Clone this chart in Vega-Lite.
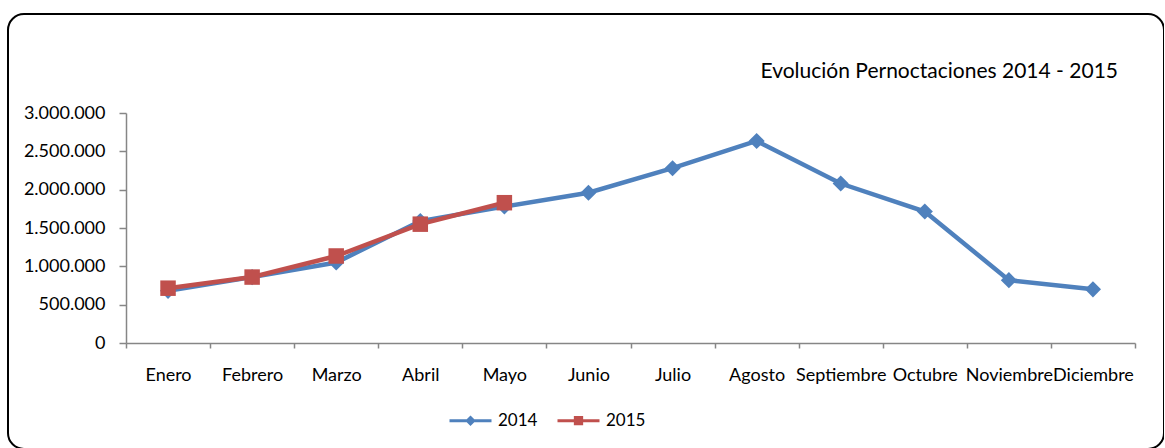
{
  "$schema": "https://vega.github.io/schema/vega-lite/v6.json",
  "width": 1156,
  "height": 435,
  "autosize": {"type": "none"},
  "padding": {"left": 8, "top": 14, "right": 0, "bottom": 0},
  "background": "white",
  "config": {
    "view": {"stroke": "#000000", "strokeWidth": 2, "cornerRadius": 16, "fill": "white"},
    "font": "Lato",
    "locale": {"number": {"decimal": ",", "thousands": ".", "grouping": [3], "currency": ["", " €"]}}
  },
  "title": {
    "text": "Evolución Pernoctaciones 2014 - 2015",
    "anchor": "end",
    "orient": "top",
    "frame": "group",
    "font": "Lato",
    "fontSize": 21,
    "fontWeight": "normal",
    "color": "#000000",
    "baseline": "alphabetic",
    "offset": 0,
    "dx": -46,
    "dy": 85
  },
  "data": {
    "values": [
      {"mes": "Enero", "anio": "2014", "valor": 680000},
      {"mes": "Febrero", "anio": "2014", "valor": 860000},
      {"mes": "Marzo", "anio": "2014", "valor": 1050000},
      {"mes": "Abril", "anio": "2014", "valor": 1590000},
      {"mes": "Mayo", "anio": "2014", "valor": 1780000},
      {"mes": "Junio", "anio": "2014", "valor": 1960000},
      {"mes": "Julio", "anio": "2014", "valor": 2280000},
      {"mes": "Agosto", "anio": "2014", "valor": 2635000},
      {"mes": "Septiembre", "anio": "2014", "valor": 2080000},
      {"mes": "Octubre", "anio": "2014", "valor": 1715000},
      {"mes": "Noviembre", "anio": "2014", "valor": 820000},
      {"mes": "Diciembre", "anio": "2014", "valor": 700000},
      {"mes": "Enero", "anio": "2015", "valor": 715000},
      {"mes": "Febrero", "anio": "2015", "valor": 860000},
      {"mes": "Marzo", "anio": "2015", "valor": 1135000},
      {"mes": "Abril", "anio": "2015", "valor": 1550000},
      {"mes": "Mayo", "anio": "2015", "valor": 1830000}
    ]
  },
  "encoding": {
    "x": {
      "field": "mes",
      "type": "nominal",
      "sort": ["Enero", "Febrero", "Marzo", "Abril", "Mayo", "Junio", "Julio", "Agosto", "Septiembre", "Octubre", "Noviembre", "Diciembre"],
      "scale": {
        "type": "band",
        "domain": ["Enero", "Febrero", "Marzo", "Abril", "Mayo", "Junio", "Julio", "Agosto", "Septiembre", "Octubre", "Noviembre", "Diciembre"],
        "range": [118, 1127],
        "paddingInner": 0,
        "paddingOuter": 0
      },
      "axis": {
        "orient": "bottom",
        "offset": -106,
        "title": null,
        "labelAngle": 0,
        "tickBand": "extent",
        "grid": false,
        "domainColor": "#868686",
        "domainWidth": 1.5,
        "tickColor": "#868686",
        "tickWidth": 1.5,
        "tickSize": 5,
        "labelFont": "Lato",
        "labelFontSize": 18,
        "labelColor": "#000000",
        "labelPadding": 18,
        "labelOverlap": false,
        "labelBound": false
      }
    },
    "y": {
      "field": "valor",
      "type": "quantitative",
      "scale": {"domain": [0, 3000000], "range": [329, 99], "nice": false, "zero": true},
      "axis": {
        "orient": "left",
        "offset": -118,
        "title": null,
        "values": [0, 500000, 1000000, 1500000, 2000000, 2500000, 3000000],
        "format": ",d",
        "grid": false,
        "domainColor": "#868686",
        "domainWidth": 1.5,
        "tickColor": "#868686",
        "tickWidth": 1.5,
        "tickSize": 7,
        "labelFont": "Lato",
        "labelFontSize": 18,
        "labelColor": "#000000",
        "labelPadding": 14,
        "labelOverlap": false,
        "labelBound": false
      }
    },
    "color": {
      "field": "anio",
      "type": "nominal",
      "scale": {"domain": ["2014", "2015"], "range": ["#4F81BD", "#C0504D"]},
      "legend": {
        "orient": "none",
        "legendX": 440,
        "legendY": 384,
        "direction": "horizontal",
        "title": null,
        "padding": 0,
        "labelFont": "Lato",
        "labelFontSize": 17,
        "labelColor": "#000000",
        "labelOffset": 5,
        "columnPadding": 13,
        "symbolSize": 1764,
        "symbolStrokeWidth": 3,
        "symbolOpacity": 1,
        "encode": {
          "symbols": {
            "update": {
              "shape": {"signal": "datum.value == '2014' ? 'M-1,0H1M0,-0.15L0.15,0L0,0.15L-0.15,0Z' : 'M-1,0H1M-0.15,-0.15H0.15V0.15H-0.15Z'"},
              "fill": {"scale": "color", "field": "value"},
              "stroke": {"scale": "color", "field": "value"},
              "strokeWidth": {"value": 3},
              "size": {"value": 1764},
              "opacity": {"value": 1}
            }
          }
        }
      }
    }
  },
  "layer": [
    {
      "mark": {"type": "line", "strokeWidth": 4.5, "clip": false},
      "encoding": {"detail": {"field": "anio", "type": "nominal"}}
    },
    {
      "transform": [{"filter": "datum.anio == '2014'"}],
      "mark": {"type": "point", "shape": "diamond", "size": 260, "filled": true, "opacity": 1, "clip": false}
    },
    {
      "transform": [{"filter": "datum.anio == '2015'"}],
      "mark": {"type": "point", "shape": "square", "size": 240, "filled": true, "opacity": 1, "clip": false}
    }
  ]
}
